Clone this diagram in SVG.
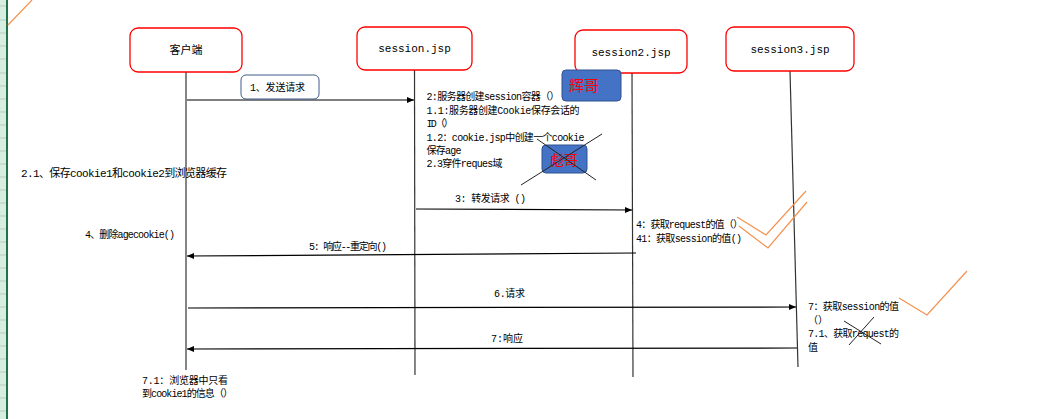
<svg xmlns="http://www.w3.org/2000/svg" width="1043" height="419" viewBox="0 0 1043 419">
<style>
text{font-family:"Liberation Mono","Noto Sans CJK SC",monospace;fill:#000;}
.n{font-size:11px;text-anchor:middle;}
.t{font-size:10px;}
.node{fill:#fff;stroke:#ff0000;stroke-width:1.3;}
.life{stroke:#333;stroke-width:1.2;fill:none;}
.msg{stroke:#000;stroke-width:1.2;fill:none;}
.chk{stroke:#f4914f;stroke-width:1.2;fill:none;}
.x{stroke:#222;stroke-width:1;}
.blue{fill:#4472c4;stroke:#2f528f;stroke-width:1;}
.grid{stroke:#b9cbbf;stroke-width:1;}
</style>
<defs>
<marker id="ah" markerWidth="8" markerHeight="8" refX="7" refY="4" orient="auto" markerUnits="userSpaceOnUse">
<path d="M0,1 L7,4 L0,7 Z" fill="#000"/>
</marker>
</defs>
<rect width="1043" height="419" fill="#fff"/>
<g id="sheet-edge">
<rect x="0" y="0" width="7" height="419" fill="#d6eee0"/>
<g class="grid">
<line x1="0" y1="6" x2="6" y2="6"/><line x1="0" y1="20" x2="6" y2="20"/><line x1="0" y1="33" x2="6" y2="33"/><line x1="0" y1="46" x2="6" y2="46"/><line x1="0" y1="59" x2="6" y2="59"/><line x1="0" y1="73" x2="6" y2="73"/><line x1="0" y1="86" x2="6" y2="86"/><line x1="0" y1="99" x2="6" y2="99"/><line x1="0" y1="112" x2="6" y2="112"/><line x1="0" y1="125" x2="6" y2="125"/><line x1="0" y1="138" x2="6" y2="138"/><line x1="0" y1="151" x2="6" y2="151"/><line x1="0" y1="164" x2="6" y2="164"/><line x1="0" y1="177" x2="6" y2="177"/><line x1="0" y1="190" x2="6" y2="190"/><line x1="0" y1="203" x2="6" y2="203"/><line x1="0" y1="216" x2="6" y2="216"/><line x1="0" y1="229" x2="6" y2="229"/><line x1="0" y1="242" x2="6" y2="242"/><line x1="0" y1="255" x2="6" y2="255"/><line x1="0" y1="268" x2="6" y2="268"/><line x1="0" y1="281" x2="6" y2="281"/><line x1="0" y1="294" x2="6" y2="294"/><line x1="0" y1="307" x2="6" y2="307"/><line x1="0" y1="320" x2="6" y2="320"/><line x1="0" y1="333" x2="6" y2="333"/><line x1="0" y1="346" x2="6" y2="346"/><line x1="0" y1="359" x2="6" y2="359"/><line x1="0" y1="372" x2="6" y2="372"/><line x1="0" y1="385" x2="6" y2="385"/><line x1="0" y1="398" x2="6" y2="398"/><line x1="0" y1="411" x2="6" y2="411"/>
</g>
<rect x="6" y="0" width="2" height="419" fill="#217346"/>
<line x1="8" y1="25" x2="32" y2="0" class="chk"/>
</g>

<g id="lifelines">
<line class="life" x1="186" y1="72" x2="186" y2="370"/>
<line class="life" x1="414.5" y1="70" x2="415" y2="375"/>
<line class="life" x1="632" y1="73" x2="633" y2="377"/>
<line class="life" x1="790" y1="71" x2="798" y2="367"/>
</g>

<g id="node-client">
<rect class="node" x="130" y="28" width="112" height="44" rx="8"/>
<text class="n" x="186" y="54">客户端</text>
</g>
<g id="node-session">
<rect class="node" x="357" y="27" width="115" height="43" rx="8"/>
<text class="n" x="414.5" y="52">session.jsp</text>
</g>
<g id="node-session2">
<rect class="node" x="575" y="30" width="112" height="43" rx="8"/>
<text class="n" x="631" y="56">session2.jsp</text>
</g>
<g id="node-session3">
<rect class="node" x="726" y="27" width="128" height="44" rx="8"/>
<text class="n" x="790" y="53">session3.jsp</text>
</g>

<g id="connectors">
<line class="msg" x1="187" y1="100" x2="414" y2="100" marker-end="url(#ah)"/>
<line class="msg" x1="416" y1="209" x2="632" y2="210" marker-end="url(#ah)"/>
<line class="msg" x1="636" y1="253" x2="187" y2="256" marker-end="url(#ah)"/>
<line class="msg" x1="188" y1="308" x2="796" y2="307" marker-end="url(#ah)"/>
<line class="msg" x1="797" y1="348" x2="187" y2="349" marker-end="url(#ah)"/>
</g>

<g id="label-send">
<rect x="241" y="75" width="78" height="24" rx="5" fill="#fff" stroke="#3f5a8a" stroke-width="1"/>
<text class="t" x="250" y="91" textLength="55">1、发送请求</text>
</g>

<g id="note-server">
<text class="t" x="426.5" y="100" textLength="133">2:服务器创建session容器（）</text>
<text class="t" x="426.5" y="114" textLength="153">1.1:服务器创建Cookie保存会话的</text>
<text class="t" x="426.5" y="127" textLength="27">ID（）</text>
<text class="t" x="426.5" y="141" textLength="158">1.2：cookie.jsp中创建一个cookie</text>
<text class="t" x="426.5" y="154" textLength="35">保存age</text>
<text class="t" x="426.5" y="167" textLength="76">2.3穿件reques域</text>
</g>

<g id="box-hui">
<rect class="blue" x="562" y="70" width="59" height="31" rx="4"/>
<text x="584" y="91" font-size="15" text-anchor="middle" style="fill:#ff0000">辉哥</text>
</g>
<g id="box-biao">
<rect class="blue" x="542" y="145" width="45" height="28" rx="4"/>
<text x="564" y="165" font-size="14" text-anchor="middle" style="fill:#ff0000">彪哥</text>
<line class="x" x1="521" y1="185" x2="602" y2="134"/>
<line class="x" x1="537" y1="139" x2="596" y2="180"/>
</g>

<g id="labels">
<text x="21" y="177" font-size="11" textLength="206">2.1、保存cookie1和cookie2到浏览器缓存</text>
<text class="t" x="85" y="238" textLength="90">4、删除agecookie()</text>
<text class="t" x="455" y="202" textLength="71">3: 转发请求 ()</text>
<text class="t" x="636" y="228" textLength="107">4：获取request的值（）</text>
<text class="t" x="636" y="242" textLength="106">41：获取session的值()</text>
<text class="t" x="309" y="250" textLength="78">5: 响应--重定向()</text>
<text class="t" x="494" y="297" textLength="31">6.请求</text>
<text class="t" x="491" y="342" textLength="32">7:响应</text>
<text class="t" x="808" y="310" textLength="91">7：获取session的值</text>
<text class="t" x="808" y="324">（）</text>
<text class="t" x="808" y="337" textLength="91">7.1、获取request的</text>
<text class="t" x="808" y="351">值</text>
<text class="t" x="142" y="384" textLength="86">7.1：浏览器中只看</text>
<text class="t" x="142" y="397" textLength="91">到cookie1的信息（）</text>
</g>

<g id="marks">
<line class="x" x1="844" y1="321" x2="881" y2="344"/>
<line class="x" x1="849" y1="345" x2="874" y2="317"/>
<polyline class="chk" points="737,217 766,235 806,191"/>
<polyline class="chk" points="739,226 768,248 807,202"/>
<polyline class="chk" points="899,298 927,315 967,271"/>
</g>
</svg>
